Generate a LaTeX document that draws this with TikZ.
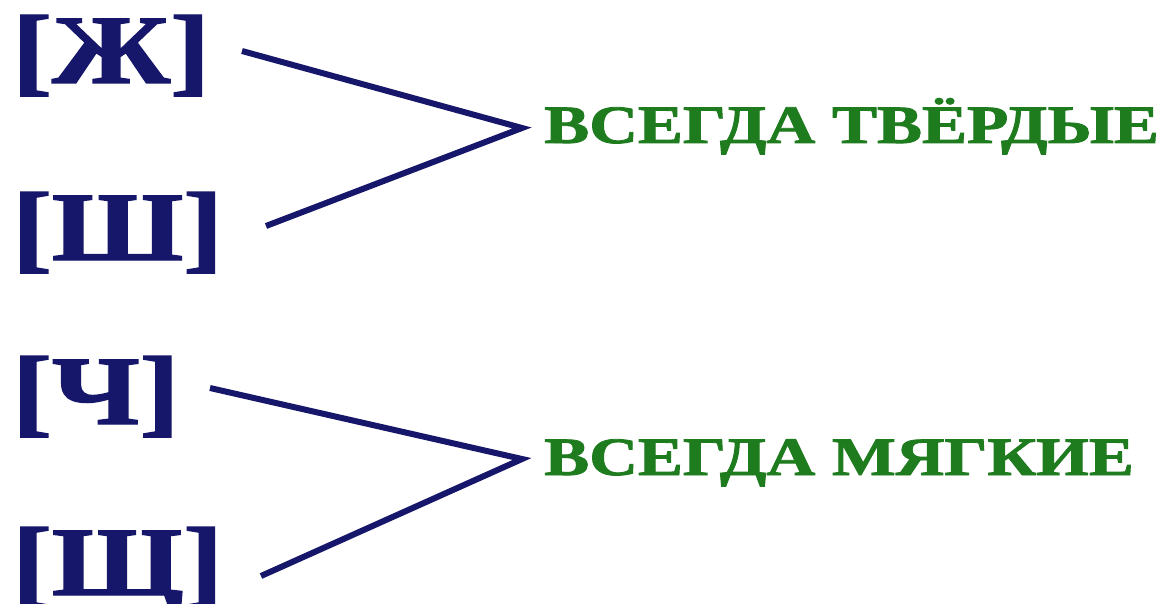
\documentclass[tikz,border=0pt]{standalone}
\usepackage{graphicx}
\usepackage{fontspec}
\setmainfont{Liberation Serif}
\newfontfamily\heavyserif{Liberation Serif}[BoldFeatures={FakeBold=1.5}]
\definecolor{navy}{RGB}{22,22,107}
\definecolor{leaf}{RGB}{30,123,30}
\newcommand{\widesound}[1]{\scalebox{1.22}[1]{#1}}
\newcommand{\widerule}[1]{\scalebox{1.25}[1]{#1}}
\begin{document}
\begin{tikzpicture}[x=1pt,y=-1pt,
  sound/.style={inner sep=0pt,anchor=base west,text=navy,font=\heavyserif\fontsize{98}{98}\selectfont\bfseries},
  rule/.style={inner sep=0pt,anchor=base west,text=leaf,font=\heavyserif\fontsize{54}{54}\selectfont\bfseries},
  link/.style={draw=navy,line width=6pt,line join=miter}]
\fill[white] (0,0) rectangle (1174,604);
\useasboundingbox (0,0) rectangle (1174,604);
\node[sound] (zh) at (12,83) {\widesound{[Ж]}};
\node[sound] (sh) at (12,260) {\widesound{[Ш]}};
\node[sound] (ch) at (12,424) {\widesound{[Ч]}};
\node[sound] (shch) at (12,595) {\widesound{[Щ]}};
\node[rule] (hard) at (544,143) {\widerule{ВСЕГДА ТВЁРДЫЕ}};
\node[rule] (soft) at (544,475) {\widerule{ВСЕГДА МЯГКИЕ}};
\coordinate (zhend) at (242,51);
\coordinate (shend) at (266,226);
\coordinate (chend) at (210,388);
\coordinate (shchend) at (261,576);
\coordinate (vhard) at (522,128);
\coordinate (vsoft) at (522,459);
\draw[link] (zhend) -- (vhard) -- (shend);
\draw[link] (chend) -- (vsoft) -- (shchend);
\end{tikzpicture}
\end{document}
